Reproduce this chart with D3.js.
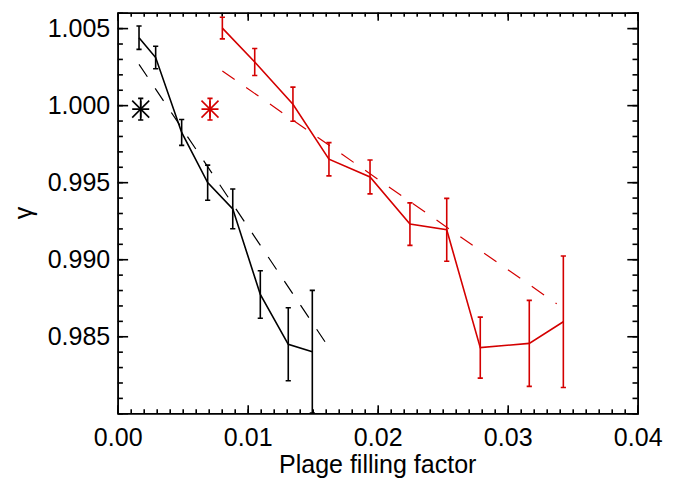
<!DOCTYPE html>
<html>
<head>
<meta charset="utf-8">
<script src="https://cdn.jsdelivr.net/npm/d3@7"></script>
<style>
  body { margin: 0; background: #fff; }
  svg text { font-family: "Liberation Sans", Arial, Helvetica, sans-serif; fill: #000; }
</style>
</head>
<body>
<svg id="chart"></svg>
<script>
// black set: filling factor, gamma, 1-sigma error
var blackX   = [0.00164, 0.00292, 0.00492, 0.00692, 0.00885, 0.01097, 0.01312, 0.01497];
var blackY   = [1.00438, 1.00309, 0.99823, 0.99497, 0.99327, 0.98771, 0.98448, 0.98400];
var blackErr = [0.00076, 0.00073, 0.00084, 0.00114, 0.00129, 0.00154, 0.00237, 0.00398];

// red set
var redX   = [0.00805, 0.01054, 0.01348, 0.01625, 0.01941, 0.02248, 0.02531, 0.02789, 0.03166, 0.03428];
var redY   = [1.00500, 1.00280, 1.00006, 0.99649, 0.99534, 0.99228, 0.99191, 0.98426, 0.98454, 0.98594];
var redErr = [0.00070, 0.00088, 0.00111, 0.00108, 0.00110, 0.00138, 0.00204, 0.00198, 0.00279, 0.00427];

// linear fits (end points)
var blackFitX = [0.00164, 0.01649];
var blackFitY = [1.00265, 0.98396];
var redFitX   = [0.00805, 0.03377];
var redFitY   = [1.00222, 0.98711];

// single asterisk points
var starX   = [0.00177, 0.0071];
var starY   = [0.99974, 0.99974];
var starErr = [0.0007, 0.0007];
var starColor = ["#000", "#d40000"];

var xMajor = [0, 0.01, 0.02, 0.03, 0.04];
var yMajor = [0.985, 0.990, 0.995, 1.000, 1.005];

var width = 695, height = 479;
var margin = {left: 117.7, right: 57.3, top: 12.7, bottom: 65.7};
var red = "#d40000";

var svg = d3.select("#chart").attr("width", width).attr("height", height);

var x = d3.scaleLinear().domain([0, 0.04]).range([margin.left, width - margin.right]);
var y = d3.scaleLinear().domain([0.980, 1.006]).range([height - margin.bottom, margin.top]);

svg.append("clipPath").attr("id", "clip")
  .append("rect")
  .attr("x", x(0)).attr("y", y(1.006))
  .attr("width", x(0.04) - x(0)).attr("height", y(0.980) - y(1.006));

// axes: ticks point inward on all four sides
function styleAxis(g) {
  g.selectAll("path, line").attr("stroke", "#000").attr("stroke-width", 1.6);
  g.selectAll("text").style("font-size", "25px");
}

var xMinor = x.ticks(40), yMinor = y.ticks(26);

svg.append("g").attr("transform", "translate(0," + y(0.980) + ")")
  .call(d3.axisBottom(x).tickValues(xMajor).tickSize(-8).tickPadding(15).tickFormat(d3.format(".2f")))
  .call(styleAxis);
svg.append("g").attr("transform", "translate(0," + y(0.980) + ")")
  .call(d3.axisBottom(x).tickValues(xMinor).tickSize(-4).tickSizeOuter(0).tickFormat(""))
  .call(styleAxis);
svg.append("g").attr("transform", "translate(0," + y(1.006) + ")")
  .call(d3.axisTop(x).tickValues(xMajor).tickSize(-8).tickFormat(""))
  .call(styleAxis);
svg.append("g").attr("transform", "translate(0," + y(1.006) + ")")
  .call(d3.axisTop(x).tickValues(xMinor).tickSize(-4).tickSizeOuter(0).tickFormat(""))
  .call(styleAxis);

svg.append("g").attr("transform", "translate(" + x(0) + ",0)")
  .call(d3.axisLeft(y).tickValues(yMajor).tickSize(-10.4).tickPadding(7.5).tickFormat(d3.format(".3f")))
  .call(styleAxis);
svg.append("g").attr("transform", "translate(" + x(0) + ",0)")
  .call(d3.axisLeft(y).tickValues(yMinor).tickSize(-5.2).tickSizeOuter(0).tickFormat(""))
  .call(styleAxis);
svg.append("g").attr("transform", "translate(" + x(0.04) + ",0)")
  .call(d3.axisRight(y).tickValues(yMajor).tickSize(-10.4).tickFormat(""))
  .call(styleAxis);
svg.append("g").attr("transform", "translate(" + x(0.04) + ",0)")
  .call(d3.axisRight(y).tickValues(yMinor).tickSize(-5.2).tickSizeOuter(0).tickFormat(""))
  .call(styleAxis);

// axis titles
svg.append("text")
  .attr("x", (x(0) + x(0.04)) / 2).attr("y", 473)
  .attr("text-anchor", "middle").style("font-size", "25px")
  .text("Plage filling factor");
svg.append("text")
  .attr("transform", "translate(32," + (y(0.980) + y(1.006)) / 2 + ") rotate(-90)")
  .attr("text-anchor", "middle").style("font-size", "25px")
  .text("γ");

var plot = svg.append("g").attr("clip-path", "url(#clip)");

function drawSeries(xs, ys, es, color) {
  var pts = xs.map(function(d, i) { return {x: d, y: ys[i], e: es[i]}; });
  plot.append("path").datum(pts)
    .attr("fill", "none").attr("stroke", color).attr("stroke-width", 1.6)
    .attr("d", d3.line().x(function(d) { return x(d.x); }).y(function(d) { return y(d.y); }));
  drawErrors(pts, color);
}

function drawErrors(pts, color) {
  var g = plot.append("g").attr("stroke", color).attr("stroke-width", 1.6);
  g.selectAll(".bar").data(pts).join("line")
    .attr("x1", function(d) { return x(d.x); }).attr("x2", function(d) { return x(d.x); })
    .attr("y1", function(d) { return y(d.y - d.e); }).attr("y2", function(d) { return y(d.y + d.e); });
  g.selectAll(".capTop").data(pts).join("line")
    .attr("x1", function(d) { return x(d.x) - 2.6; }).attr("x2", function(d) { return x(d.x) + 2.6; })
    .attr("y1", function(d) { return y(d.y + d.e); }).attr("y2", function(d) { return y(d.y + d.e); });
  g.selectAll(".capBot").data(pts).join("line")
    .attr("x1", function(d) { return x(d.x) - 2.6; }).attr("x2", function(d) { return x(d.x) + 2.6; })
    .attr("y1", function(d) { return y(d.y - d.e); }).attr("y2", function(d) { return y(d.y - d.e); });
}

function drawFit(fx, fy, color) {
  plot.append("line")
    .attr("x1", x(fx[0])).attr("y1", y(fy[0]))
    .attr("x2", x(fx[1])).attr("y2", y(fy[1]))
    .attr("stroke", color).attr("stroke-width", 1.2)
    .attr("stroke-dasharray", "15,14");
}

drawFit(blackFitX, blackFitY, "#000");
drawFit(redFitX, redFitY, red);
drawSeries(blackX, blackY, blackErr, "#000");
drawSeries(redX, redY, redErr, red);

// asterisks with their error bars
starX.forEach(function(sx, i) {
  var cx = x(sx), cy = y(starY[i]), r = 8.5, c = starColor[i];
  drawErrors([{x: sx, y: starY[i], e: starErr[i]}], c);
  var a = plot.append("g").attr("stroke", c).attr("stroke-width", 1.6);
  [[-r, 0, r, 0], [0, -r, 0, r], [-r, -r, r, r], [-r, r, r, -r]].forEach(function(s) {
    a.append("line")
      .attr("x1", cx + s[0]).attr("y1", cy + s[1])
      .attr("x2", cx + s[2]).attr("y2", cy + s[3]);
  });
});
</script>
</body>
</html>
